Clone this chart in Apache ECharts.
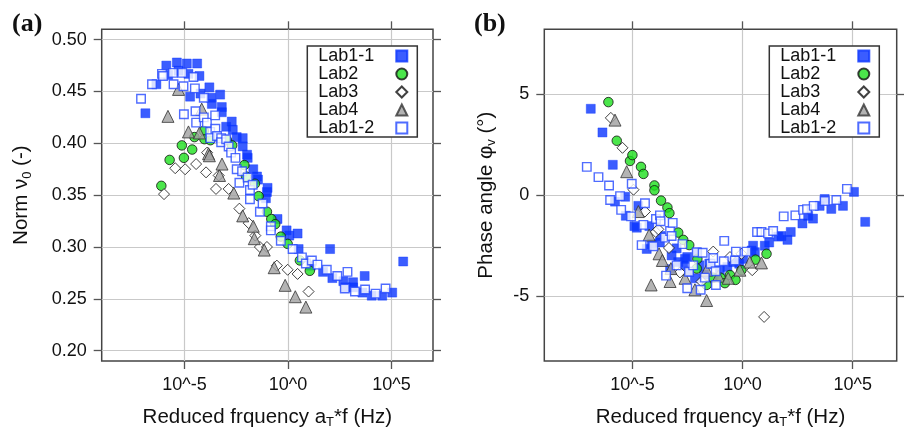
<!DOCTYPE html>
<html>
<head>
<meta charset="utf-8">
<script src="https://cdn.jsdelivr.net/npm/echarts@6/dist/echarts.min.js"></script>
<style>html,body{margin:0;padding:0;background:#fff}#c{width:904px;height:434px}</style>
</head>
<body>
<div id="c"></div>
<script>
// ---- tick values (log10 of reduced frequency on x) ----
const xTickValues = [-5, 0, 5];
const yTicksNorm = [0.20, 0.25, 0.30, 0.35, 0.40, 0.45, 0.50];
const yTicksPhase = [-5, 0, 5];
const seriesNames = ['Lab1-1', 'Lab2', 'Lab3', 'Lab4', 'Lab1-2'];

// ---- panel (a): Norm v0 vs log10(aT*f) ----
const normLab11 = [[-6.89,0.429],[-6.36,0.457],[-5.88,0.475],[-5.79,0.466],[-5.37,0.478],[-5.29,0.470],[-4.89,0.477],[-4.81,0.467],[-4.73,0.445],[-4.39,0.477],[-4.28,0.465],[-4.23,0.448],[-3.80,0.454],[-3.72,0.444],[-3.68,0.438],[-3.28,0.447],[-3.20,0.435],[-3.20,0.430],[-2.99,0.416],[-2.72,0.421],[-2.67,0.413],[-2.48,0.406],[-2.19,0.405],[-2.19,0.397],[-1.98,0.389],[-1.95,0.386],[-1.68,0.375],[-1.50,0.368],[-1.45,0.365],[-0.99,0.357],[-1.02,0.353],[-1.07,0.347],[-0.51,0.327],[-0.07,0.316],[0.06,0.311],[0.46,0.313],[0.51,0.298],[2.03,0.298],[1.10,0.282],[1.69,0.276],[2.14,0.270],[2.67,0.267],[3.14,0.266],[2.78,0.261],[3.14,0.261],[3.70,0.272],[3.59,0.256],[4.04,0.253],[4.55,0.253],[5.03,0.256],[5.56,0.286]];
const normLab2 = [[-6.12,0.359],[-5.72,0.384],[-5.13,0.398],[-5.03,0.386],[-4.63,0.394],[-4.52,0.406],[-4.07,0.412],[-4.04,0.404],[-3.75,0.403],[-2.95,0.403],[-2.70,0.398],[-2.11,0.379],[-2.03,0.368],[-1.60,0.361],[-1.42,0.349],[-1.02,0.334],[-0.81,0.327],[-0.62,0.322],[-0.35,0.310],[-0.02,0.303],[0.57,0.287],[1.05,0.277]];
const normLab3 = [[-5.99,0.351],[-5.45,0.376],[-4.97,0.375],[-4.44,0.380],[-3.96,0.372],[-3.91,0.391],[-3.48,0.356],[-3.35,0.369],[-2.87,0.356],[-2.35,0.337],[-1.90,0.323],[-1.58,0.311],[-1.36,0.300],[-1.02,0.300],[-0.54,0.282],[-0.02,0.278],[0.46,0.274],[0.99,0.257]];
const normLab4 = [[-5.80,0.426],[-5.29,0.452],[-4.81,0.411],[-4.28,0.410],[-4.17,0.433],[-3.84,0.390],[-3.80,0.388],[-3.31,0.369],[-3.19,0.380],[-2.62,0.352],[-2.19,0.330],[-1.68,0.320],[-1.63,0.308],[-1.15,0.297],[-0.67,0.280],[-0.14,0.263],[0.35,0.252],[0.86,0.242]];
const normLab12 = [[-7.10,0.443],[-6.57,0.457],[-6.09,0.467],[-6.04,0.465],[-5.56,0.468],[-5.53,0.457],[-5.11,0.468],[-5.05,0.455],[-5.03,0.428],[-4.57,0.464],[-4.50,0.453],[-4.47,0.431],[-4.44,0.420],[-4.07,0.444],[-4.07,0.425],[-3.92,0.420],[-3.76,0.411],[-3.75,0.405],[-3.52,0.427],[-3.51,0.414],[-3.43,0.407],[-3.23,0.405],[-3.23,0.401],[-2.99,0.404],[-2.87,0.397],[-2.75,0.391],[-2.54,0.386],[-2.48,0.375],[-2.35,0.362],[-2.22,0.373],[-1.95,0.367],[-1.84,0.355],[-1.84,0.346],[-1.71,0.360],[-1.36,0.334],[-1.23,0.342],[-0.83,0.320],[-0.83,0.316],[-0.35,0.306],[0.22,0.298],[0.67,0.290],[0.86,0.284],[1.15,0.287],[1.42,0.283],[1.87,0.278],[2.38,0.272],[2.87,0.276],[2.74,0.260],[3.23,0.257],[3.72,0.259],[4.23,0.255],[4.71,0.260]];

// ---- panel (b): phase angle (deg) vs log10(aT*f) ----
const phaseLab11 = [[-6.89,4.27],[-6.36,3.10],[-5.89,1.50],[-5.79,-0.32],[-5.33,-0.08],[-5.30,-1.02],[-4.91,-1.53],[-4.80,-1.61],[-4.73,-0.53],[-4.35,-2.66],[-4.23,-1.53],[-4.12,-2.42],[-3.75,-2.34],[-3.72,-2.02],[-3.29,-3.66],[-3.22,-2.98],[-2.99,-2.63],[-2.92,-3.31],[-2.69,-3.47],[-2.61,-3.15],[-2.51,-3.06],[-2.42,-3.79],[-2.16,-4.11],[-2.05,-2.85],[-1.96,-3.47],[-1.75,-3.92],[-1.51,-3.39],[-1.03,-3.71],[-0.69,-3.55],[-0.42,-3.31],[-0.15,-3.39],[0.03,-3.15],[0.41,-2.74],[0.48,-2.50],[0.56,-2.82],[1.01,-2.50],[1.21,-2.34],[1.62,-2.05],[1.77,-2.02],[2.04,-2.21],[2.19,-1.82],[2.72,-1.40],[2.98,-1.02],[3.20,-1.16],[3.50,-0.53],[3.73,-0.19],[4.03,-0.68],[4.56,-0.53],[5.06,0.16],[5.57,-1.32]];
const phaseLab2 = [[-6.09,4.60],[-5.71,2.69],[-5.11,1.69],[-5.00,1.98],[-4.61,1.40],[-4.50,1.05],[-4.00,0.48],[-4.00,0.24],[-3.70,-0.27],[-3.41,-0.61],[-3.32,-0.89],[-2.92,-1.85],[-2.69,-2.21],[-2.42,-2.47],[-2.05,-3.15],[-2.08,-3.63],[-1.63,-4.44],[-1.33,-4.08],[-1.00,-4.08],[-0.80,-4.35],[-0.57,-3.95],[-0.32,-4.19],[-0.05,-3.71],[0.59,-3.19],[1.09,-2.90]];
const phaseLab3 = [[-5.98,3.82],[-5.45,2.34],[-4.95,0.27],[-4.43,-0.81],[-3.94,-1.82],[-3.82,-1.69],[-3.34,-2.61],[-2.84,-3.82],[-1.86,-4.27],[-1.33,-2.79],[-0.57,-3.06],[-0.05,-2.90],[0.44,-3.71],[0.98,-6.02]];
const phaseLab4 = [[-5.79,3.71],[-5.26,1.16],[-4.73,-0.81],[-4.24,-1.97],[-4.15,-4.44],[-3.79,-2.90],[-3.64,-3.23],[-3.29,-4.27],[-3.25,-3.63],[-2.61,-4.11],[-2.16,-4.68],[-1.63,-3.71],[-1.63,-5.21],[-1.10,-4.00],[-0.65,-4.11],[-0.12,-3.71],[0.33,-3.31],[0.86,-3.35]];
const phaseLab12 = [[-7.07,1.40],[-6.54,0.89],[-6.06,0.48],[-6.01,-0.24],[-5.56,-0.05],[-5.51,-0.73],[-5.03,0.56],[-5.06,-1.05],[-4.50,-1.47],[-4.58,-2.47],[-4.43,-0.40],[-4.05,-2.53],[-3.93,-1.18],[-3.75,-1.00],[-3.72,-1.29],[-3.52,-2.10],[-3.47,-3.98],[-3.29,-1.77],[-3.22,-2.02],[-3.17,-1.37],[-2.99,-3.47],[-2.73,-2.42],[-2.51,-4.60],[-2.43,-3.79],[-2.24,-3.47],[-2.08,-2.82],[-1.90,-4.68],[-1.81,-2.85],[-1.71,-4.08],[-1.45,-3.39],[-1.33,-3.11],[-1.22,-3.76],[-1.21,-4.44],[-0.83,-2.26],[-0.85,-3.27],[-0.35,-3.23],[-0.30,-2.79],[0.18,-2.79],[0.66,-1.82],[0.86,-1.82],[1.16,-1.89],[1.39,-1.77],[1.87,-1.05],[2.40,-1.00],[2.75,-0.73],[2.93,-0.69],[3.23,-0.53],[3.73,-0.29],[4.26,-0.24],[4.74,0.31]];

const FONT = 'Liberation Sans, Arial, sans-serif';
const styles = {
  'Lab1-1': { symbol: 'rect', symbolSize: 9, itemStyle: { color: '#0a34ff', borderColor: '#0a34ff', borderWidth: 0.5 } },
  'Lab2':   { symbol: 'circle', symbolSize: 9.5, itemStyle: { color: '#1ee01e', borderColor: '#111', borderWidth: 1 } },
  'Lab3':   { symbol: 'diamond', symbolSize: 11, itemStyle: { color: '#ffffff', borderColor: '#111', borderWidth: 1 } },
  'Lab4':   { symbol: 'triangle', symbolSize: 12, itemStyle: { color: '#a0a0a0', borderColor: '#333', borderWidth: 1 } },
  'Lab1-2': { symbol: 'rect', symbolSize: 8.5, itemStyle: { color: '#ffffff', borderColor: '#2347ff', borderWidth: 1.4 } }
};

const gridLine = { show: true, lineStyle: { color: '#c9c9c9', width: 1.2 } };
const tick = { show: true, inside: false, length: 8, lineStyle: { color: '#555', width: 1.3 } };
const noLine = { show: false, onZero: false };

function xAxes(gridIndex) {
  return [
    { type: 'value', gridIndex, position: 'bottom', min: -9, max: 7,
      axisLine: noLine,
      axisTick: Object.assign({ customValues: xTickValues }, tick),
      splitLine: gridLine,
      axisLabel: { customValues: xTickValues, margin: 15, fontSize: 18, color: '#111', fontFamily: FONT, formatter: v => '10^' + v },
      name: 'Reduced frquency a{sub|T}*f (Hz)', nameLocation: 'middle', nameGap: 44,
      nameTextStyle: { fontSize: 20.5, color: '#111', fontFamily: FONT, lineHeight: 24,
        rich: { sub: { fontSize: 13, fontFamily: FONT, color: '#111', verticalAlign: 'bottom', lineHeight: 14 } } }
    },
    { type: 'value', gridIndex, position: 'top', min: -9, max: 7,
      axisLine: noLine,
      axisTick: Object.assign({ customValues: xTickValues }, tick),
      splitLine: { show: false }, axisLabel: { show: false } }
  ];
}
function yAxes(gridIndex, min, max, ticks, fmt, name, nameGap) {
  return [
    { type: 'value', gridIndex, position: 'left', min, max,
      axisLine: noLine,
      axisTick: Object.assign({ customValues: ticks }, tick),
      splitLine: gridLine,
      axisLabel: { customValues: ticks, margin: 15, fontSize: 18, color: '#111', fontFamily: FONT, formatter: fmt },
      name, nameLocation: 'middle', nameGap,
      nameTextStyle: { fontSize: 20.5, color: '#111', fontFamily: FONT, lineHeight: 24,
        rich: { sub: { fontSize: 13, fontFamily: FONT, color: '#111', verticalAlign: 'bottom', lineHeight: 14 } } }
    },
    { type: 'value', gridIndex, position: 'right', min, max,
      axisLine: noLine,
      axisTick: Object.assign({ customValues: ticks }, tick),
      splitLine: { show: false }, axisLabel: { show: false } }
  ];
}

function makeSeries(xi, yi, arrays) {
  return seriesNames.map((n, i) => Object.assign({
    name: n, type: 'scatter', xAxisIndex: xi, yAxisIndex: yi, data: arrays[i], z: 3 + i
  }, styles[n]));
}

function makeLegend(left) {
  return {
    orient: 'vertical', left, top: 46, align: 'right',
    itemWidth: 11, itemHeight: 11, itemGap: 0, selectedMode: false,
    backgroundColor: '#fff', borderColor: '#333', borderWidth: 1.5, borderRadius: 0,
    padding: [1, 9, 0, 11],
    formatter: n => '{t|' + n + '}',
    textStyle: { fontSize: 18, color: '#111', fontFamily: FONT, lineHeight: 18,
      rich: { t: { width: 73, align: 'left', fontSize: 18, fontFamily: FONT, color: '#111', lineHeight: 18 } } },
    data: seriesNames.map(n => ({ name: n, icon: styles[n].symbol }))
  };
}

const option = {
  animation: false,
  backgroundColor: '#fff',
  grid: [
    { left: 101.7, right: 471, top: 29.3, bottom: 66, show: true, borderColor: '#444', borderWidth: 1.5, backgroundColor: 'transparent' },
    { left: 544.3, right: 7.3, top: 29.3, bottom: 66, show: true, borderColor: '#444', borderWidth: 1.5, backgroundColor: 'transparent' }
  ],
  xAxis: [...xAxes(0), ...xAxes(1)],
  yAxis: [
    ...yAxes(0, 0.19, 0.51, yTicksNorm, v => v.toFixed(2), 'Norm ν{sub|0} (-)', 68),
    ...yAxes(1, -8.2, 8.2, yTicksPhase, v => String(v), 'Phase angle φ{sub|v} (°)', 46)
  ],
  legend: [makeLegend(307.3), makeLegend(769.3)],
  graphic: [
    { type: 'text', left: 12, top: 11, style: { text: '(a)', font: 'bold 26px "Liberation Serif", "Times New Roman", serif', fill: '#111' } },
    { type: 'text', left: 474, top: 11, style: { text: '(b)', font: 'bold 26px "Liberation Serif", "Times New Roman", serif', fill: '#111' } }
  ],
  series: [
    ...makeSeries(0, 0, [normLab11, normLab2, normLab3, normLab4, normLab12]),
    ...makeSeries(2, 2, [phaseLab11, phaseLab2, phaseLab3, phaseLab4, phaseLab12])
  ]
};

const chart = echarts.init(document.getElementById('c'), null, { renderer: 'canvas' });
chart.setOption(option);
</script>
</body>
</html>
